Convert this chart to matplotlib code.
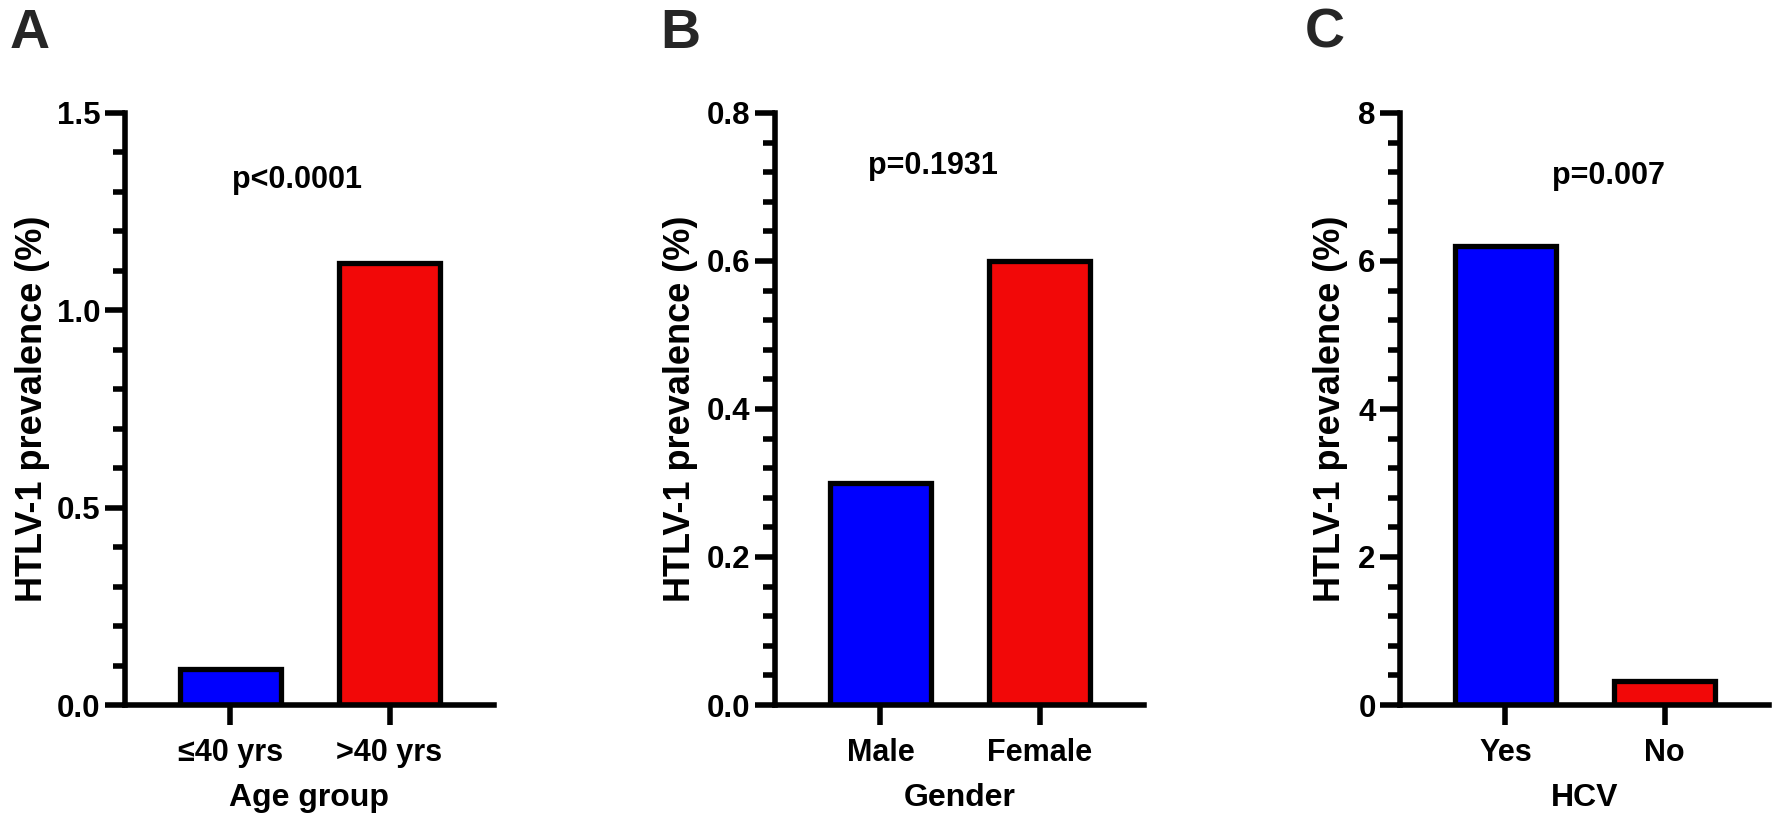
import matplotlib
matplotlib.use("Agg")
import matplotlib.pyplot as plt
from matplotlib.ticker import MultipleLocator, FormatStrFormatter

plt.rcParams['font.family'] = ['Liberation Sans', 'DejaVu Sans']
plt.rcParams['font.weight'] = 'bold'

# ---- data ----
categories_A = ['≤40 yrs', '>40 yrs']
values_A = [0.09, 1.12]
categories_B = ['Male', 'Female']
values_B = [0.30, 0.60]
categories_C = ['Yes', 'No']
values_C = [6.2, 0.32]

xlabels = ['Age group', 'Gender', 'HCV']
ylabel = 'HTLV-1 prevalence (%)'
pvalues = ['p<0.0001', 'p=0.1931', 'p=0.007']
panel_letters = ['A', 'B', 'C']
bar_colors = ['#0000ff', '#f20808']

W, H = 1784, 822
fig = plt.figure(figsize=(W / 100, H / 100), dpi=100)

lefts = [125, 775, 1400]
ax_w = 369
ax_top, ax_bot = 113, 705

panels = [
    dict(cats=categories_A, vals=values_A, ymax=1.5, major=0.5, minor=0.1, fmt='%.1f',
         ptxt=(0.42, 1.33), ylab_x=-0.252, letter_x=10),
    dict(cats=categories_B, vals=values_B, ymax=0.8, major=0.2, minor=0.04, fmt='%.1f',
         ptxt=(0.33, 0.728), ylab_x=-0.257, letter_x=660),
    dict(cats=categories_C, vals=values_C, ymax=8, major=2, minor=0.4, fmt='%d',
         ptxt=(0.65, 7.15), ylab_x=-0.187, letter_x=1305),
]

lw = 4.0
for i, p in enumerate(panels):
    ax = fig.add_axes([lefts[i] / W, (H - ax_bot) / H, ax_w / W, (ax_bot - ax_top) / H])
    x = list(range(len(p['cats'])))
    ax.bar(x, p['vals'], width=0.64, color=bar_colors, edgecolor='black', linewidth=3.8, zorder=2)
    ax.set_xlim(-0.663, 1.657)
    ax.set_ylim(0, p['ymax'])
    ax.set_xticks(x)
    ax.set_xticklabels(p['cats'], fontsize=22, fontweight='bold')
    ax.yaxis.set_major_locator(MultipleLocator(p['major']))
    ax.yaxis.set_minor_locator(MultipleLocator(p['minor']))
    ax.yaxis.set_major_formatter(FormatStrFormatter(p['fmt']))
    for lab in ax.get_yticklabels():
        lab.set_fontsize(22.5)
        lab.set_fontweight('bold')
    for s in ['top', 'right']:
        ax.spines[s].set_visible(False)
    for s in ['left', 'bottom']:
        ax.spines[s].set_linewidth(lw)
        ax.spines[s].set_capstyle('projecting')
        ax.spines[s].set_zorder(3)
    ax.tick_params(axis='both', which='major', length=14.5, width=lw, direction='out', pad=3)
    ax.tick_params(axis='y', which='minor', length=8.3, width=lw, direction='out')
    ax.tick_params(axis='x', which='major', pad=9)
    ax.tick_params(axis='x', which='minor', bottom=False)
    ax.set_xlabel(xlabels[i], fontsize=23, fontweight='bold', labelpad=11)
    ax.set_ylabel(ylabel, fontsize=26, fontweight='bold', va='center')
    ax.yaxis.set_label_coords(p['ylab_x'], 0.5)
    ax.text(p['ptxt'][0], p['ptxt'][1], pvalues[i], fontsize=22, fontweight='bold',
            ha='center', va='center')
    fig.text(p['letter_x'] / W, 1 - 8 / H, panel_letters[i], fontsize=40, fontweight='bold',
             color='#262626', ha='left', va='top')

fig.savefig('out.png', dpi=100, facecolor='white')
